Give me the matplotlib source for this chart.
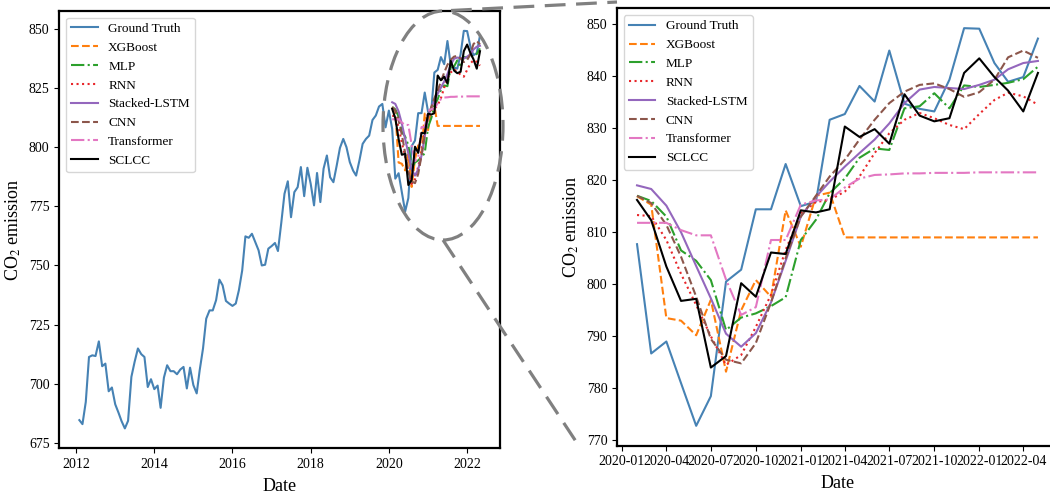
# %%
import pandas as pd
import matplotlib.pyplot as plt
import matplotlib.dates as mdates
from matplotlib.patches import Ellipse
from matplotlib.lines import Line2D

plt.rcParams['font.family'] = ['Liberation Serif', 'DejaVu Serif']
plt.rcParams['mathtext.fontset'] = 'stix'

# %% data
gtStart = "2012-02-01"
predStart = "2020-02-01"

groundTruth = [
    684.6, 682.9, 692.3, 711.3, 712.0, 711.7, 717.9, 707.4, 708.5, 696.8, 698.4, 691.3,
    687.7, 684.2, 681.1, 684.3, 702.9, 709.2, 714.9, 712.5, 711.3, 698.6, 701.9, 697.7,
    699.2, 689.8, 702.6, 707.8, 705.3, 705.3, 704.0, 706.0, 707.1, 698.0, 706.8, 699.4,
    695.9, 705.7, 714.9, 727.5, 731.0, 731.0, 735.3, 744.0, 741.6, 735.0, 733.9, 732.9,
    733.9, 739.5, 747.9, 762.3, 761.7, 763.4, 759.9, 756.4, 750.0, 750.3, 757.1, 758.2,
    759.5, 756.1, 768.0, 780.3, 785.6, 770.4, 781.0, 783.1, 791.6, 779.3, 791.3, 784.5,
    775.4, 789.1, 776.8, 790.9, 796.5, 787.3, 785.2, 792.3, 799.7, 803.5, 800.0, 793.7,
    790.1, 788.0, 794.4, 801.4, 803.5, 804.9, 811.5, 813.4, 817.2, 818.3, 808.4, 815.5,
    807.7, 786.7, 789.0, 781.0, 772.8, 778.5, 800.5, 802.8, 814.4, 814.4, 823.1, 815.0,
    815.9, 831.6, 832.7, 838.1, 835.1, 844.9, 834.7, 833.7, 833.2, 839.3, 849.2, 849.1,
    842.5, 838.9, 839.8, 847.2,
]

xgboost = [816.9, 815.3, 793.5, 793.0, 790.2, 797.0, 783.2, 795.0, 800.8, 797.6, 814.2, 807.2,
           817.0, 817.6, 809.0, 809.0, 809.0, 809.0, 809.0, 809.0, 809.0, 809.0, 809.0, 809.0,
           809.0, 809.0, 809.0, 809.0]
mlp = [817.0, 816.0, 813.0, 806.5, 804.5, 800.8, 791.2, 793.6, 794.4, 795.8, 797.5, 808.5,
       812.4, 817.5, 820.3, 824.3, 826.1, 825.8, 833.8, 834.2, 836.7, 833.8, 838.2, 837.9,
       838.3, 838.7, 839.4, 841.8]
rnn = [813.3, 813.1, 808.5, 802.0, 796.0, 790.0, 784.5, 786.4, 791.8, 798.0, 806.6, 813.6,
       815.8, 816.2, 817.8, 820.7, 825.2, 829.0, 831.6, 832.9, 831.9, 830.6, 829.8, 832.7,
       835.4, 836.8, 836.1, 834.5]
stackedLstm = [819.0, 818.3, 815.1, 810.0, 803.5, 797.3, 790.5, 788.0, 790.6, 796.5, 804.5, 813.0,
               816.8, 819.7, 822.6, 825.2, 827.8, 830.9, 834.8, 837.4, 837.9, 837.7, 837.5, 838.3,
               839.3, 841.3, 842.5, 842.9]
cnn = [817.0, 815.6, 811.4, 805.3, 797.6, 789.5, 785.5, 784.8, 788.7, 796.5, 805.0, 813.0,
       817.0, 820.7, 823.9, 827.8, 831.6, 834.8, 837.0, 838.3, 838.6, 837.5, 836.0, 836.9,
       839.3, 843.6, 844.9, 843.5]
transformer = [811.8, 811.8, 811.8, 810.4, 809.4, 809.4, 800.9, 794.1, 795.6, 808.5, 808.5, 815.3,
               816.1, 816.3, 818.6, 820.3, 821.0, 821.1, 821.3, 821.3, 821.4, 821.4, 821.4, 821.5,
               821.5, 821.5, 821.5, 821.5]
sclcc = [816.2, 812.3, 803.4, 796.8, 797.2, 784.0, 786.2, 800.2, 797.6, 806.1, 805.8, 814.2,
         813.8, 814.4, 830.3, 828.3, 829.8, 827.0, 836.5, 832.4, 831.3, 831.9, 840.6, 843.4,
         839.8, 837.2, 833.2, 840.6]

gtDates = pd.date_range(gtStart, periods=len(groundTruth), freq="MS")
predDates = pd.date_range(predStart, periods=len(sclcc), freq="MS")

models = [
    ("XGBoost", xgboost, "tab:orange", "--"),
    ("MLP", mlp, "tab:green", "-."),
    ("RNN", rnn, "#e8262a", ":"),
    ("Stacked-LSTM", stackedLstm, "tab:purple", "-"),
    ("CNN", cnn, "tab:brown", "--"),
    ("Transformer", transformer, "tab:pink", "-."),
    ("SCLCC", sclcc, "black", "-"),
]

# %%
fig = plt.figure(figsize=(10.5, 4.96), dpi=100)
axL = fig.add_axes([0.0565, 0.0962, 0.4197, 0.8817])
axR = fig.add_axes([0.5876, 0.1014, 0.42, 0.8819])

gtPredPart = groundTruth[-len(sclcc):]


def drawLines(ax, dates_gt, values_gt):
    ax.plot(dates_gt, values_gt, color="#4682b4", lw=1.5, label="Ground Truth")
    for name, vals, col, ls in models:
        ax.plot(predDates, vals, color=col, ls=ls, lw=1.5, label=name)
    ax.legend(loc="upper left", fontsize=9.5)
    ax.set_xlabel("Date", fontsize=13, labelpad=5)
    ax.set_ylabel("CO$_2$ emission", fontsize=13)
    ax.tick_params(labelsize=10)
    for s in ax.spines.values():
        s.set_linewidth(1.6)


drawLines(axL, gtDates, groundTruth)
drawLines(axR, predDates, gtPredPart)

axL.xaxis.set_major_locator(mdates.YearLocator(2))
axL.xaxis.set_major_formatter(mdates.DateFormatter("%Y"))
axR.xaxis.set_major_locator(mdates.MonthLocator(bymonth=[1, 4, 7, 10]))
axR.xaxis.set_major_formatter(mdates.DateFormatter("%Y-%m"))

# zoom marker: ellipse + connector lines (figure fraction)
W, H = 1050.0, 496.0
dash = (0, (6.5, 3.3))
ell = Ellipse((443 / W, 1 - 125.5 / H), 120 / W, 229 / H, transform=fig.transFigure,
              fill=False, edgecolor="gray", lw=2.3, linestyle=dash)
fig.add_artist(ell)
fig.add_artist(Line2D([451 / W, 617 / W], [1 - 10.5 / H, 1 - 2.0 / H], transform=fig.transFigure,
                      color="gray", lw=2.3, linestyle=dash))
fig.add_artist(Line2D([443 / W, 577 / W], [1 - 240 / H, 1 - 443 / H], transform=fig.transFigure,
                      color="gray", lw=2.3, linestyle=dash))

fig.savefig("out.png", dpi=100)
